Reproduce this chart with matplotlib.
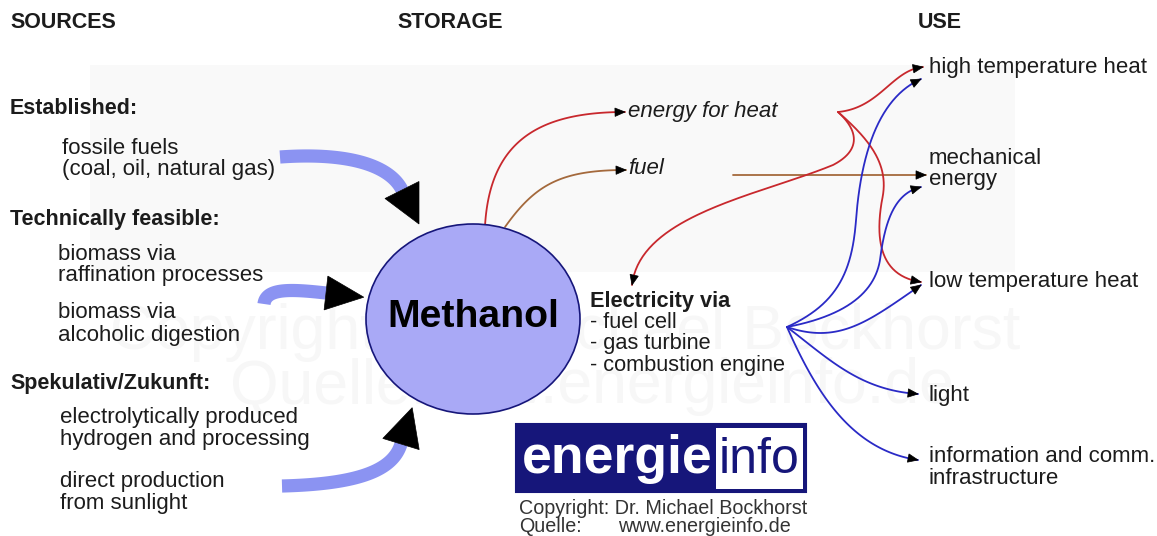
import numpy as np
import matplotlib
matplotlib.use('Agg')
import matplotlib.pyplot as plt
from matplotlib.patches import Ellipse, Polygon, Rectangle

# ---------------- content ----------------
headers = ["SOURCES", "STORAGE", "USE"]
source_groups = ["Established:", "Technically feasible:", "Spekulativ/Zukunft:"]
source_items = ["fossile fuels", "(coal, oil, natural gas)",
                "biomass via", "raffination processes",
                "biomass via", "alcoholic digestion",
                "electrolytically produced", "hydrogen and processing",
                "direct production", "from sunlight"]
storage_label = "Methanol"
intermediate = ["energy for heat", "fuel"]
electricity = ["Electricity via", "- fuel cell", "- gas turbine", "- combustion engine"]
uses = ["high temperature heat", "mechanical", "energy", "low temperature heat",
        "light", "information and comm.", "infrastructure"]
logo_parts = ["energie", "info"]
credits = ["Copyright: Dr. Michael Bockhorst", "Quelle:", "www.energieinfo.de"]

# ---------------- layout (pixel coords) ----------------
W, H = 1157, 536
header_xy = [(10, 22), (397, 22), (918, 22)]
group_xy = [(10, 108), (10, 220), (10, 384)]
item_xy = [(62, 148), (62, 170), (58, 254), (58, 276), (58, 313), (58, 335),
           (60, 418), (60, 440), (60, 481), (60, 503)]
use_xy = [(929, 68), (929, 158), (929, 180), (929, 281), (929, 395), (929, 456), (929, 478)]
elec_xy = [(590, 301), (590, 323), (590, 344), (590, 366)]
inter_xy = [(628, 112), (628, 168)]

FONT = ['Liberation Sans', 'DejaVu Sans']
TXT = '#1c1c1c'
RED = '#c8282d'
BROWN = '#a4693c'
BLUE = '#2a2ac6'
BODY = '#8b93f2'
ELL = '#a9a9f6'
NAVY = '#16167a'
FS = 16

fig = plt.figure(figsize=(W / 100, H / 100), dpi=100)
ax = fig.add_axes([0, 0, 1, 1])
ax.set_xlim(0, W)
ax.set_ylim(H, 0)
ax.axis('off')


def bez(p, n=80):
    p = np.asarray(p, float)
    t = np.linspace(0, 1, n)[:, None]
    if len(p) == 3:
        return (1 - t) ** 2 * p[0] + 2 * (1 - t) * t * p[1] + t ** 2 * p[2]
    return ((1 - t) ** 3 * p[0] + 3 * (1 - t) ** 2 * t * p[1]
            + 3 * (1 - t) * t ** 2 * p[2] + t ** 3 * p[3])


def head(tip, d, length, half, color='black', z=5):
    d = np.asarray(d, float)
    d = d / np.hypot(*d)
    n = np.array([-d[1], d[0]])
    tip = np.asarray(tip, float)
    base = tip - d * length
    ax.add_patch(Polygon([tip, base + n * half, base - n * half], closed=True,
                         facecolor=color, edgecolor=color, lw=0.5, zorder=z))


def thin(segs, color, lw=1.3, arrow=True, z=3):
    pts = np.vstack([bez(s) for s in segs])
    ax.plot(pts[:, 0], pts[:, 1], color=color, lw=lw, zorder=z,
            solid_capstyle='round')
    if arrow:
        last = np.asarray(segs[-1], float)
        head(last[-1], last[-1] - pts[-6], 10, 4.2, z=z + 1)


def thick(seg, hlen=38, hhalf=19):
    pts = bez(seg)
    ax.plot(pts[:, 0], pts[:, 1], color=BODY, lw=9.5, solid_capstyle='butt', zorder=2)
    s = np.asarray(seg, float)
    d = s[-1] - s[-2]
    d = d / np.hypot(*d)
    head(s[-1] + d * hlen, d, hlen, hhalf, z=3)


# background panel
ax.add_patch(Rectangle((90, 65), 925, 207, facecolor='#f9f9f9', edgecolor='none', zorder=0))
# faint watermark
WM = '#f7f7f7'
ax.text(110, 332, credits[0], fontsize=45, color=WM, family=FONT,
        va='center', ha='left', zorder=0.5)
ax.text(230, 387, credits[1], fontsize=45, color=WM, family=FONT,
        va='center', ha='left', zorder=0.5)
ax.text(408, 387, credits[2], fontsize=45, color=WM, family=FONT,
        va='center', ha='left', zorder=0.5)

# text
for s, (x, y) in zip(headers, header_xy):
    ax.text(x, y, s, fontsize=15.5, fontweight='bold', color=TXT, family=FONT, va='center')
for s, (x, y) in zip(source_groups, group_xy):
    ax.text(x, y, s, fontsize=15.5, fontweight='bold', color=TXT, family=FONT, va='center')
for s, (x, y) in zip(source_items, item_xy):
    ax.text(x, y, s, fontsize=FS, color=TXT, family=FONT, va='center')
for s, (x, y) in zip(uses, use_xy):
    ax.text(x, y, s, fontsize=FS, color=TXT, family=FONT, va='center')
for i, (s, (x, y)) in enumerate(zip(electricity, elec_xy)):
    ax.text(x, y, s, fontsize=15.7, fontweight='bold' if i == 0 else 'normal',
            color=TXT, family=FONT, va='center')
for s, (x, y) in zip(intermediate, inter_xy):
    ax.text(x, y, s, fontsize=FS, style='italic', color=TXT, family=FONT, va='center')

# Methanol ellipse
ax.add_patch(Ellipse((473, 319), 214, 190, facecolor=ELL, edgecolor=NAVY, lw=1.2, zorder=4))
ax.text(473, 317, storage_label, fontsize=28.3, fontweight='bold', color='black',
        family=FONT, ha='center', va='center', zorder=6)

# thick source arrows
thick([(280, 157), (350, 152), (390, 166), (402, 190)])
thick([(264, 304), (266, 288), (290, 289), (326, 293)], hlen=38, hhalf=17)
thick([(282, 486), (360, 484), (393, 470), (401, 444)])

# storage outputs
thin([[(485, 226), (490, 140), (540, 112), (625, 112)]], RED)
thin([[(505, 227), (535, 185), (560, 170), (626, 170)]], BROWN)
thin([[(733, 175), (800, 175), (880, 175), (926, 175)]], BROWN)

# red heat routing
thin([[(838, 112), (880, 108), (892, 70), (923, 67)]], RED)
thin([[(838, 112), (870, 140), (890, 165), (882, 200)],
      [(882, 200), (875, 240), (880, 276), (921, 282)]], RED)
thin([[(838, 112), (858, 130), (862, 150), (833, 165)],
      [(833, 165), (760, 195), (640, 215), (632, 285)]], RED)

# blue electricity routing
O = (787, 327)
thin([[O, (835, 305), (852, 275), (856, 220)],
      [(856, 220), (862, 140), (885, 95), (921, 79)]], BLUE)
thin([[O, (850, 315), (875, 290), (880, 260)],
      [(880, 260), (885, 220), (895, 193), (921, 187)]], BLUE)
thin([[O, (840, 345), (870, 320), (921, 285)]], BLUE)
thin([[O, (830, 360), (860, 390), (918, 394)]], BLUE)
thin([[O, (815, 390), (850, 450), (918, 460)]], BLUE)

# logo
ax.add_patch(Rectangle((516, 424), 290, 68, facecolor=NAVY, edgecolor=NAVY, lw=1.5, zorder=4))
ax.add_patch(Rectangle((716, 428), 87, 61, facecolor='white', edgecolor='none', zorder=5))
ax.text(522, 473, logo_parts[0], fontsize=38.5, fontweight='bold', color='white',
        family=FONT, va='baseline', zorder=6)
ax.text(719, 473, logo_parts[1], fontsize=36, color=NAVY, family=FONT, va='baseline', zorder=6)
ax.text(519, 508, credits[0], fontsize=14.2, color='#333333', family=FONT, va='center')
ax.text(519, 526, credits[1], fontsize=14.2, color='#333333', family=FONT, va='center')
ax.text(618, 526, credits[2], fontsize=14.2, color='#333333', family=FONT, va='center')

fig.savefig('out.png', dpi=100, facecolor='white')
